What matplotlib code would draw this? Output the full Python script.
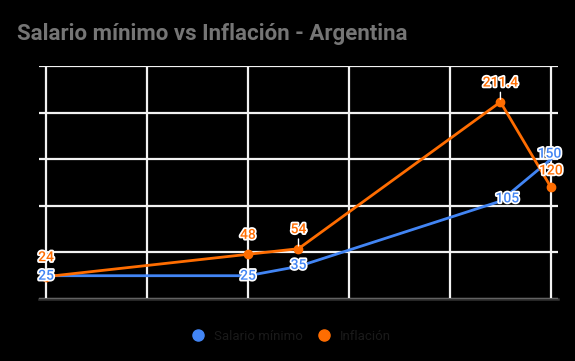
import numpy as np
import matplotlib.pyplot as plt
import matplotlib.patheffects as pe
from matplotlib.lines import Line2D

plt.rcParams['font.family'] = ['Roboto', 'DejaVu Sans']

# data
periods = [0, 2, 2.5, 4.5, 5]
salario = [25, 25, 35, 105, 150]
inflacion = [24, 48, 54, 211.4, 120]
salario_labels = ['25', '25', '35', '105', '150']
inflacion_labels = ['24', '48', '54', '211.4', '120']

blue = '#4285F4'
orange = '#FF6D01'

fig = plt.figure(figsize=(5.75, 3.61), dpi=100, facecolor='black')
ax = fig.add_axes([0.0678, 0.1717, 0.9026, 0.6454])
ax.set_facecolor('black')

ax.set_xlim(-0.07, 5.07)
ax.set_ylim(0, 250)
ax.set_xticks(np.arange(0, 6, 1))
ax.set_yticks(np.arange(0, 251, 50))
ax.grid(True, color='#f2f2f2', linewidth=1.6)
ax.tick_params(length=0, labelbottom=False, labelleft=False)
for s in ['top', 'right', 'left']:
    ax.spines[s].set_visible(False)
ax.spines['bottom'].set_color('#333333')
ax.spines['bottom'].set_linewidth(1.8)
ax.spines['bottom'].set_zorder(3)

ax.plot(periods, salario, color=blue, linewidth=2, zorder=4)
ax.plot(periods, inflacion, color=orange, linewidth=2, marker='o',
        markersize=6, zorder=5)

stroke = [pe.withStroke(linewidth=2.5, foreground='white')]

# blue labels sit on the points
blue_offsets = [(0, 0), (0, 0), (0, 1), (5, 2), (-1, 4)]
for x, y, t, off in zip(periods, salario, salario_labels, blue_offsets):
    ax.annotate(t, (x, y), xytext=off, textcoords='offset points',
                ha='center', va='center', color=blue, fontsize=10,
                fontweight='medium', path_effects=stroke, zorder=7,
                annotation_clip=False)

# orange labels above the points, some with a leader line
leader = [False, False, True, True, False]
orange_offsets = [(0, 14), (0, 14), (0, 14), (0, 14), (0, 12)]
for x, y, t, ld, off in zip(periods, inflacion, inflacion_labels, leader,
                            orange_offsets):
    if ld:
        ax.annotate('', (x, y), xytext=(0, 9), textcoords='offset points',
                    arrowprops=dict(arrowstyle='-', color='white', lw=1),
                    zorder=6, annotation_clip=False)
    ax.annotate(t, (x, y), xytext=off, textcoords='offset points',
                ha='center', va='center', color=orange, fontsize=10,
                fontweight='medium', path_effects=stroke, zorder=7,
                annotation_clip=False)

fig.text(0.03, 0.905, 'Salario mínimo vs Inflación - Argentina',
         color='#757575', fontsize=16, fontweight='bold', ha='left', va='center')

handles = [Line2D([], [], marker='o', linestyle='', color=blue, markersize=8),
           Line2D([], [], marker='o', linestyle='', color=orange, markersize=8)]
fig.legend(handles, ['Salario mínimo', 'Inflación'], loc='center',
           bbox_to_anchor=(0.5, 0.069), ncol=2, frameon=False,
           fontsize=9.5, labelcolor='#1a1a1a', handletextpad=0.2,
           columnspacing=0.6)

fig.savefig('out.png', dpi=100, facecolor='black')
